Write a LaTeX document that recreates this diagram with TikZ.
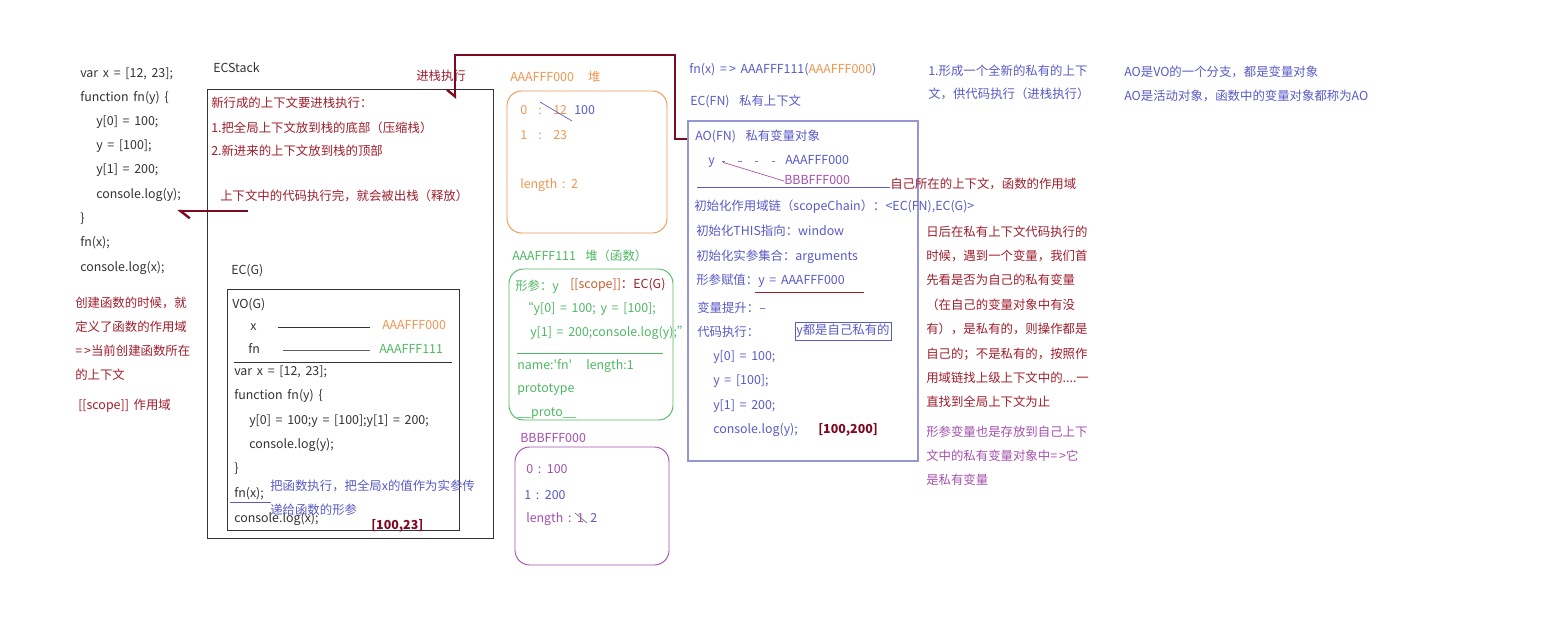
\documentclass[tikz,border=0pt]{standalone}
\usepackage{fontspec}
\setmainfont{Noto Sans CJK SC}[WordSpace=1.7]
\usetikzlibrary{arrows.meta,fit}
\definecolor{codec}{RGB}{51,51,51}
\definecolor{dred}{RGB}{160,30,45}
\definecolor{maroon}{RGB}{125,10,35}
\definecolor{orng}{RGB}{240,150,80}
\definecolor{scopec}{RGB}{200,95,50}
\definecolor{grn}{RGB}{80,185,100}
\definecolor{blu}{RGB}{90,90,200}
\definecolor{purp}{RGB}{165,80,175}
\definecolor{lav}{RGB}{150,150,215}
\newcommand{\fsz}{\fontsize{9.3}{11}\selectfont}
\begin{document}
\begin{tikzpicture}[x=0.75pt,y=-0.75pt,
  txt/.style={anchor=west,inner sep=0pt,font=\fsz,text height=7.5pt,text depth=2pt},
  code/.style={txt,text=codec},
  dr/.style={txt,text=dred},
  og/.style={txt,text=orng},
  gn/.style={txt,text=grn},
  bl/.style={txt,text=blu},
  pp/.style={txt,text=purp},
  stackarrow/.style={draw=maroon,line width=1.8pt},
  boxline/.style={draw=codec,line width=0.6pt,inner sep=0pt},
  heapbox/.style={line width=0.7pt,rounded corners=11pt,inner sep=0pt}
]
\useasboundingbox[fill=white] (0,0) rectangle (1544,635);

% ---------- left code column ----------
\node[code] (c1) at (80,74) {var x = [12, 23];};
\node[code] (c2) at (80,98) {function fn(y) \{};
\node[code] (c3) at (96,122) {y[0] = 100;};
\node[code] (c4) at (96,146) {y = [100];};
\node[code] (c5) at (96,170) {y[1] = 200;};
\node[code] (c6) at (96,195) {console.log(y);};
\node[code] (c7) at (80,219) {\}};
\node[code] (c8) at (80,243) {fn(x);};
\node[code] (c9) at (80,268) {console.log(x);};

\node[dr] (n1) at (75,304) {创建函数的时候，就};
\node[dr] (n2) at (75,328) {定义了函数的作用域};
\node[dr] (n3) at (75,352) {=\,>当前创建函数所在};
\node[dr] (n4) at (75,376) {的上下文};
\node[dr] (n5) at (78,406) {[[scope]] 作用域};

% ---------- ECStack ----------
\node[code] (ecl) at (213,69) {ECStack};
\node[dr] (push) at (416,77) {进栈执行};
\node[boxline,draw,fit={(207,89) (493,538)}] (ecstack) {};
\node[dr] (s1) at (211,104) {新行成的上下文要进栈执行：};
\node[dr] (s2) at (211,129) {1.把全局上下文放到栈的底部（压缩栈）};
\node[dr] (s3) at (211,152) {2.新进来的上下文放到栈的顶部};
\node[dr] (s4) at (220,197) {上下文中的代码执行完，就会被出栈（释放）};

\node[code] (ecgl) at (231,271) {EC(G)};
\node[boxline,draw,fit={(227,289) (459,530)}] (ecg) {};
\node[code] (vog) at (232,305) {VO(G)};
\node[code] (gx) at (250,327) {x};
\node[og] (ga0) at (382,326) {AAAFFF000};
\node[code] (gfn) at (248,350) {fn};
\node[gn] (ga1) at (379,350) {AAAFFF111};
\draw[codec,line width=0.6pt,shorten <=16pt,shorten >=9pt] (gx.east) -- (ga0.west |- gx.east);
\draw[codec!80,line width=0.6pt,shorten <=17pt,shorten >=7pt] (gfn.east) -- (ga1.west |- gfn.east);
\draw[codec,line width=0.6pt] (234,362) -- (452,362);
\node[code] (g1) at (234,372) {var x = [12, 23];};
\node[code] (g2) at (234,396) {function fn(y) \{};
\node[code] (g3) at (249,421) {y[0] = 100;y = [100];y[1] = 200;};
\node[code] (g4) at (249,445) {console.log(y);};
\node[code] (g5) at (234,469) {\}};
\node[code] (g6) at (234,494) {fn(x);};
\node[code] (g7) at (234,519) {console.log(x);};
\draw[blu,line width=0.6pt] (230,502) -- (271,502);
\node[bl] (b1) at (270,487) {把函数执行，把全局x的值作为实参传};
\node[bl] (b2) at (270,511) {递给函数的形参};
\node[txt,text=maroon,font=\fsz\bfseries] (r1) at (371,526) {[100,23]};

% ---------- heap AAAFFF000 ----------
\node[og] (h0l) at (510,78) {AAAFFF000\ \ \ 堆};
\node[heapbox,draw=orng,fit={(507,91) (667,233)}] (h0) {};
\node[og] (h0a) at (520,111) {0};
\node[og] (h0ac) at (538,111) {:};
\node[og] (h0av) at (553,111) {12};
\node[bl] (h0n) at (574,111) {100};
\draw[blu,line width=0.5pt] (540,102) -- (572,121);
\node[og] (h0b) at (520,136) {1};
\node[og] (h0bc) at (538,136) {:};
\node[og] (h0bv) at (553,136) {23};
\node[og] (h0c) at (520,185) {length : 2};

% ---------- heap AAAFFF111 ----------
\node[gn] (h1l) at (512,257) {AAAFFF111\ \ 堆（函数）};
\node[heapbox,draw=grn,fit={(509,269) (673,420)}] (h1) {};
\node[gn] (f1) at (515,287) {形参：y};
\node[txt] (f2) at (570,285) {\textcolor{scopec}{[[scope]]}\textcolor{dred}{：EC(G)}};
\node[gn] (f3) at (521,309) {“y[0] = 100; y = [100];};
\node[gn] (f4) at (530,333) {y[1] = 200;console.log(y);”};
\draw[grn,line width=0.6pt] (517,353) -- (663,353);
\node[gn] (f5) at (517,366) {name:\textquotesingle fn\textquotesingle\ \ \ length:1};
\node[gn] (f6) at (517,389) {prototype};
\node[gn] (f7) at (517,413) {\_\_proto\_\_};

% ---------- heap BBBFFF000 ----------
\node[pp] (h2l) at (520,439) {BBBFFF000};
\node[heapbox,draw=purp,fit={(515,447) (669,565)}] (h2) {};
\node[pp] (p1) at (526,470) {0 : 100};
\node[bl] (p2) at (524,496) {1 : 200};
\node[pp] (p3) at (526,519) {length : 1};
\node[bl] (p4) at (590,519) {2};
\draw[codec!70,line width=0.5pt] (575,513) -- (587,523);

% ---------- EC(FN) ----------
\node[bl] (fnx) at (689,70) {fn(x) =\,> AAAFFF111(\textcolor{orng}{AAAFFF000})};
\node[bl] (ecfnl) at (690,102) {EC(FN)\ \ 私有上下文};
\node[draw=lav,line width=0.9pt,inner sep=0pt,fit={(688,121) (918,461)}] (ecfn) {};
\node[bl] (ao) at (695,137) {AO(FN)\ \ 私有变量对象};
\node[bl] (ay) at (708,161) {y};
\node[bl] (aa0) at (785,161) {AAAFFF000};
\draw[blu!80,line width=0.6pt,dash pattern=on 2.5pt off 10pt,shorten <=5pt,shorten >=2pt] (ay.east) -- (aa0.west);
\node[pp] (ab0) at (784,181) {BBBFFF000};
\draw[purp,line width=0.5pt] ([xshift=6pt,yshift=-1pt]ay.east) -- (ab0.west);
\node[dr] (own) at (890,185) {自己所在的上下文，函数的作用域};
\draw[blu,line width=0.6pt] (697,187) -- (own.west |- 0,187);
\node[bl] (i1) at (694,207) {初始化作用域链（scopeChain）：<EC(FN),EC(G)>};
\node[bl] (i2) at (696,232) {初始化THIS指向：window};
\node[bl] (i3) at (696,257) {初始化实参集合：arguments};
\node[bl] (i4) at (696,281) {形参赋值：y = AAAFFF000};
\draw[dred,line width=0.6pt] (755,292) -- (864,292);
\node[bl] (i5) at (697,309) {变量提升：--};
\node[bl] (i6) at (697,333) {代码执行：};
\node[bl,draw=blu,line width=0.6pt,inner xsep=1pt,inner ysep=2pt,anchor=center] (own2) at (843,331) {y都是自己私有的};
\node[bl] (e1) at (713,357) {y[0] = 100;};
\node[bl] (e2) at (713,381) {y = [100];};
\node[bl] (e3) at (713,406) {y[1] = 200;};
\node[bl] (e4) at (713,430) {console.log(y);};
\node[txt,text=maroon,font=\fsz\bfseries] (r2) at (818,430) {[100,200]};

% ---------- right notes ----------
\node[bl] (m1) at (928,72) {1.形成一个全新的私有的上下};
\node[bl] (m2) at (928,95) {文，供代码执行（进栈执行）};
\node[dr] (d1) at (926,233) {日后在私有上下文代码执行的};
\node[dr] (d2) at (926,257) {时候，遇到一个变量，我们首};
\node[dr] (d3) at (926,281) {先看是否为自己的私有变量};
\node[dr] (d4) at (926,306) {（在自己的变量对象中有没};
\node[dr] (d5) at (926,330) {有），是私有的，则操作都是};
\node[dr] (d6) at (926,355) {自己的；不是私有的，按照作};
\node[dr] (d7) at (926,379) {用域链找上级上下文中的....一};
\node[dr] (d8) at (926,403) {直找到全局上下文为止};
\node[pp] (q1) at (926,433) {形参变量也是存放到自己上下};
\node[pp] (q2) at (926,457) {文中的私有变量对象中=\,>它};
\node[pp] (q3) at (926,481) {是私有变量};
\node[bl] (a1) at (1124,73) {AO是VO的一个分支，都是变量对象};
\node[bl] (a2) at (1124,97) {AO是活动对象，函数中的变量对象都称为AO};

% ---------- stack arrows ----------
\coordinate (inTip) at (455,99);
\coordinate (outStart) at (248,211);
\coordinate (outTip) at (177,211);
\draw[stackarrow,-{Straight Barb[right,length=5pt,width=12pt]}]
  (ecfn.west |- 0,139) -- (675,139) -- (675,55) -- (455,55) -- (inTip);
\draw[stackarrow,-{Straight Barb[left,length=7pt,width=11pt]}] (outStart) -- (outTip);
\end{tikzpicture}
\end{document}
